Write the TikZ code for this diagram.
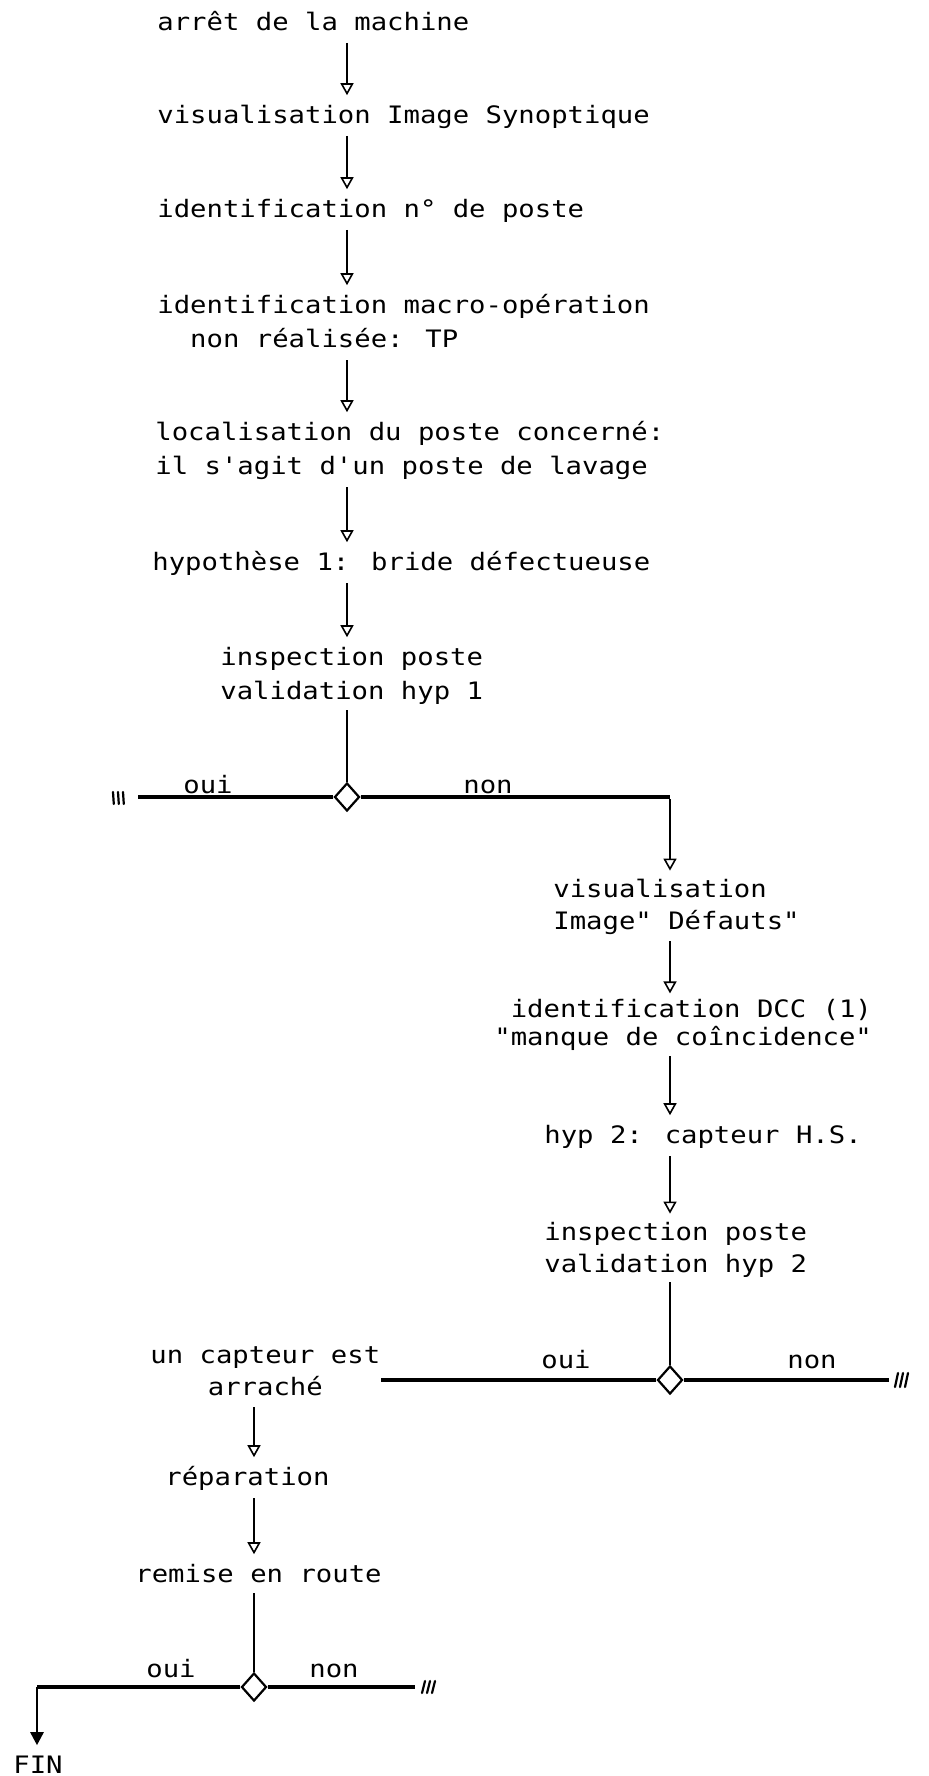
\documentclass[tikz,border=0pt]{standalone}
\usepackage{fontspec}
\newfontfamily\typefont{DejaVu Sans Mono}[Ligatures=TeXOff, FakeStretch=1.136]
\usetikzlibrary{arrows.meta,shapes.geometric}
\begin{document}
\begin{tikzpicture}[x=0.5pt,y=-0.5pt,
  stepbox/.style={anchor=north west, inner sep=0pt, align=left,
    font=\typefont\fontsize{12pt}{17pt}\selectfont},
  bsixteen/.style={font=\typefont\fontsize{12pt}{16pt}\selectfont},
  bfourteen/.style={font=\typefont\fontsize{12pt}{14pt}\selectfont},
  lbl/.style={anchor=base, inner sep=0pt, font=\typefont\fontsize{12pt}{17pt}\selectfont},
  dec/.style={draw, fill=white, shape=diamond, inner sep=0pt, minimum width=12.5pt, minimum height=14pt, line width=1.1pt},
  arr/.style={line width=0.9pt, shorten >=2pt, shorten <=1pt, -{Triangle[open,width=6.5pt,length=6pt,line width=0.8pt]}},
  vline/.style={line width=1pt},
  hline/.style={line width=1.7pt},
  endmark/.style={line width=1.1pt, line cap=round},
  finarr/.style={line width=1.3pt, shorten >=2pt, -{Triangle[width=6.5pt,length=6.5pt]}}]
\useasboundingbox[fill=white] (0,0) rectangle (928,1776);

% main column (top = first baseline - 0.7 baselineskip)
\node[stepbox] (n1) at (157,6.2) {\strut arrêt de la machine};
\node[stepbox] (n2) at (157,99.2) {\strut visualisation Image Synoptique};
\node[stepbox] (n3) at (157,193.2) {\strut identification n° de poste};
\node[stepbox] (n4) at (157,289.2) {\strut identification macro-opération\\\strut\ \ non réalisée: TP};
\node[stepbox] (n5) at (155,416.2) {\strut localisation du poste concerné:\\\strut il s'agit d'un poste de lavage};
\node[stepbox] (n6) at (152,546.2) {\strut hypothèse 1: bride défectueuse};
\node[stepbox] (n7) at (220,641.2) {\strut inspection poste\\\strut validation hyp 1};
\node[dec] (d1) at (347,797) {};

% right column
\node[stepbox, bsixteen] (n8) at (553,874.6) {\strut visualisation\\\strut Image" Défauts"};
\node[stepbox, bfourteen, align=right] (n9) at (494,997.4) {\strut identification DCC (1)\\\strut"manque de coîncidence"};
\node[stepbox] (n10) at (544,1119.2) {\strut hyp 2: capteur H.S.};
\node[stepbox, bsixteen] (n11) at (544,1217.6) {\strut inspection poste\\\strut validation hyp 2};
\node[dec] (d2) at (670,1380) {};

% lower left column
\node[stepbox, bsixteen, align=center] (n12) at (150,1340.6) {\strut un capteur est\\\strut arraché};
\node[stepbox] (n13) at (165,1461.2) {\strut réparation};
\node[stepbox] (n14) at (135,1558.2) {\strut remise en route};
\node[dec] (d3) at (254,1687) {};
\node[stepbox] (fin) at (13,1749.2) {\strut FIN};

% branch labels
\node[lbl] (o1) at (208,793) {oui};
\node[lbl] (x1) at (488,793) {non};
\node[lbl] (o2) at (566,1368) {oui};
\node[lbl] (x2) at (812,1368) {non};
\node[lbl] (o3) at (171,1677) {oui};
\node[lbl] (x3) at (334,1677) {non};

% free ends
\coordinate (e1) at (138,797);
\coordinate (e2) at (889,1380);
\coordinate (e3) at (415,1687);
\coordinate (e4) at (37,1687);

% arrows of the main column
\draw[arr] (n1.south -| d1) -- (n2.north -| d1);
\draw[arr] (n2.south -| d1) -- (n3.north -| d1);
\draw[arr] (n3.south -| d1) -- (n4.north -| d1);
\draw[arr] (n4.south -| d1) -- (n5.north -| d1);
\draw[arr] (n5.south -| d1) -- (n6.north -| d1);
\draw[arr] (n6.south -| d1) -- (n7.north -| d1);
\draw[vline] (n7.south -| d1) -- (d1.north);

% first decision
\draw[hline] (d1.west) -- (e1);
\draw[hline] (d1.east) -- (d1 -| d2);
\draw[arr] (d1 -| d2) -- (n8.north -| d2);
\draw[arr] (n8.south -| d2) -- (n9.north -| d2);
\draw[arr] (n9.south -| d2) -- (n10.north -| d2);
\draw[arr] (n10.south -| d2) -- (n11.north -| d2);
\draw[vline] (n11.south -| d2) -- (d2.north);

% second decision
\draw[hline] (d2.west) -- (d2 -| n12.east);
\draw[hline] (d2.east) -- (e2);
\draw[arr] (n12.south -| d3) -- (n13.north -| d3);
\draw[arr] (n13.south -| d3) -- (n14.north -| d3);
\draw[vline] (n14.south -| d3) -- (d3.north);

% third decision
\draw[hline] (d3.west) -- (e4);
\draw[finarr] (e4) -- (fin.north -| e4);
\draw[hline] (d3.east) -- (e3);

% continuation marks
\foreach \dx in {0,5,10} {
  \draw[endmark] ([xshift=-12.5pt+\dx*0.5pt, yshift=2.5pt]e1) -- ++(0.4pt,-6pt);
  \draw[endmark] ([xshift=3pt+\dx*0.5pt, yshift=-3.5pt]e2) -- ++(1.5pt,7pt);
  \draw[endmark] ([xshift=3.5pt+\dx*0.5pt, yshift=-3pt]e3) -- ++(1.5pt,6pt);
}
\end{tikzpicture}
\end{document}
